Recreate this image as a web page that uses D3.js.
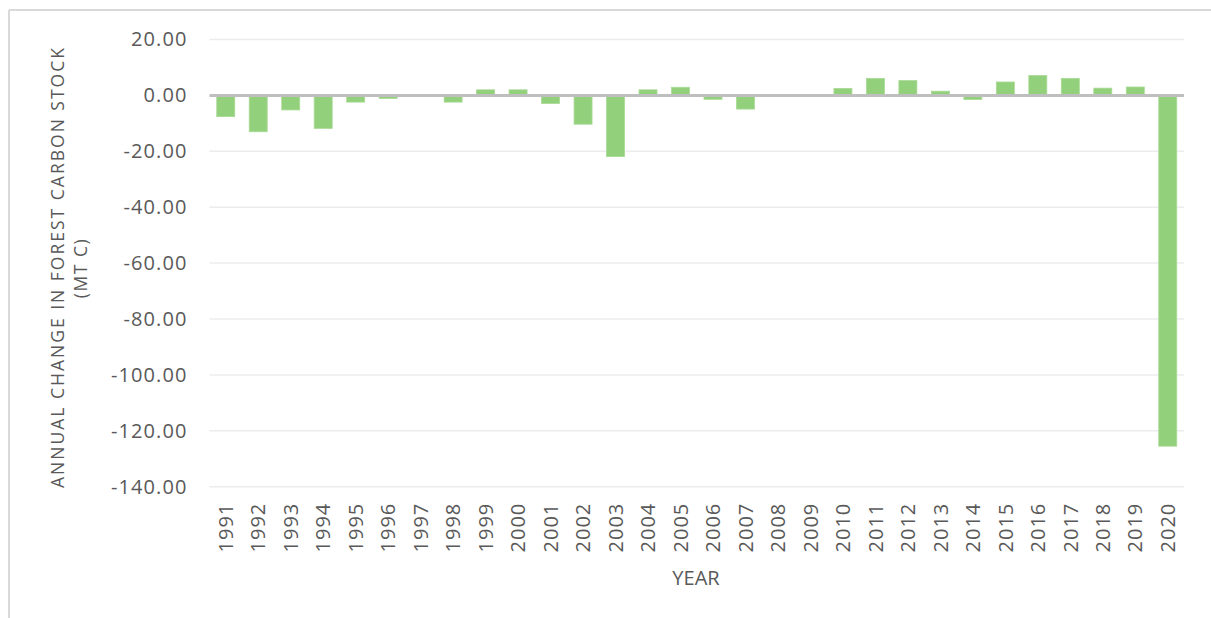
<!DOCTYPE html>
<html>
<head>
<meta charset="utf-8">
<script src="https://cdn.jsdelivr.net/npm/d3@7"></script>
<style>
  html, body { margin: 0; padding: 0; background: #ffffff; }
  svg { display: block; }
  text { font-family: "Open Sans", "DejaVu Sans", sans-serif; fill: #595959; }
</style>
</head>
<body>
<svg id="chart" width="1211" height="618"></svg>
<script>
// ---- data ----
const years = ["1991","1992","1993","1994","1995","1996","1997","1998","1999","2000",
               "2001","2002","2003","2004","2005","2006","2007","2008","2009","2010",
               "2011","2012","2013","2014","2015","2016","2017","2018","2019","2020"];
const carbonChange = [-7.6, -13.0, -5.2, -11.8, -2.4, -1.1, 0.0, -2.4, 2.0, 2.0,
                      -2.9, -10.3, -21.9, 2.0, 2.9, -1.4, -4.9, 0.0, 0.0, 2.5,
                      6.1, 5.3, 1.5, -1.5, 4.8, 7.1, 6.1, 2.6, 3.0, -125.5];
const yTicks = [20, 0, -20, -40, -60, -80, -100, -120, -140];
const yTitleLines = ["ANNUAL CHANGE IN FOREST CARBON STOCK", "(MT C)"];
const xTitle = "YEAR";

// ---- layout ----
const svg = d3.select("#chart");
const plotLeft = 209.5, plotRight = 1184, plotTop = 39.5, plotBottom = 486.7;

svg.append("rect").attr("x", 0).attr("y", 0).attr("width", 1211).attr("height", 618).attr("fill", "#ffffff");
// outer chart border (top and left visible)
svg.append("line").attr("x1", 9).attr("x2", 1211).attr("y1", 10).attr("y2", 10)
  .attr("stroke", "#d9d9d9").attr("stroke-width", 2);
svg.append("line").attr("x1", 9).attr("x2", 9).attr("y1", 10).attr("y2", 618)
  .attr("stroke", "#d9d9d9").attr("stroke-width", 2);

const x = d3.scaleBand().domain(years).range([plotLeft, plotRight])
  .paddingInner(0.446).paddingOuter(0.223);
const y = d3.scaleLinear().domain([-140, 20]).range([plotBottom, plotTop]);

// gridlines
svg.append("g").selectAll("line").data(yTicks.filter(d => d !== 0)).join("line")
  .attr("x1", plotLeft).attr("x2", plotRight)
  .attr("y1", d => y(d)).attr("y2", d => y(d))
  .attr("stroke", "#ececec").attr("stroke-width", 1.5);

// y tick labels (ASCII hyphen-minus like the reference)
const fmt = d3.format(".2f");
const yAxis = d3.axisLeft(y).tickValues(yTicks)
  .tickFormat(d => fmt(d).replace("\u2212", "-")).tickSize(0).tickPadding(22);
const gy = svg.append("g").attr("transform", `translate(${plotLeft},0)`).call(yAxis);
gy.select(".domain").remove();
gy.selectAll("text").attr("font-size", 20).attr("letter-spacing", 1.1)
  .attr("fill", "#595959").attr("font-family", "Open Sans, sans-serif");

// bars
svg.append("g").selectAll("rect").data(years).join("rect")
  .attr("x", (d) => x(d))
  .attr("width", x.bandwidth())
  .attr("y", (d, i) => y(Math.max(0, carbonChange[i])))
  .attr("height", (d, i) => Math.abs(y(carbonChange[i]) - y(0)))
  .attr("fill", "#92d07b")
  .attr("stroke", "#a9da95").attr("stroke-width", 0.8);

// zero line
svg.append("line").attr("x1", plotLeft).attr("x2", plotRight)
  .attr("y1", y(0)).attr("y2", y(0))
  .attr("stroke", "#bfbfbf").attr("stroke-width", 3);

// x tick labels (rotated)
const xAxis = d3.axisBottom(x).tickSize(0).tickPadding(0);
const gx = svg.append("g").attr("transform", `translate(0,${plotBottom})`).call(xAxis);
gx.select(".domain").remove();
gx.selectAll("text")
  .attr("font-size", 20).attr("letter-spacing", 1)
  .attr("fill", "#595959").attr("font-family", "Open Sans, sans-serif")
  .attr("text-anchor", "end")
  .attr("transform", "translate(0,16) rotate(-90)")
  .attr("x", 0).attr("y", 0).attr("dy", "0.36em");

// x title
svg.append("text").attr("x", 696).attr("y", 585).attr("text-anchor", "middle")
  .attr("font-size", 20).text(xTitle);

// y title
const yt = svg.append("text").attr("transform", "translate(0,268) rotate(-90)")
  .attr("text-anchor", "middle").attr("font-size", 17.5);
yt.append("tspan").attr("x", 0).attr("y", 64).attr("textLength", 440)
  .attr("lengthAdjust", "spacing").text(yTitleLines[0]);
yt.append("tspan").attr("x", 0).attr("y", 87).attr("letter-spacing", 1.5).text(yTitleLines[1]);
</script>
</body>
</html>
